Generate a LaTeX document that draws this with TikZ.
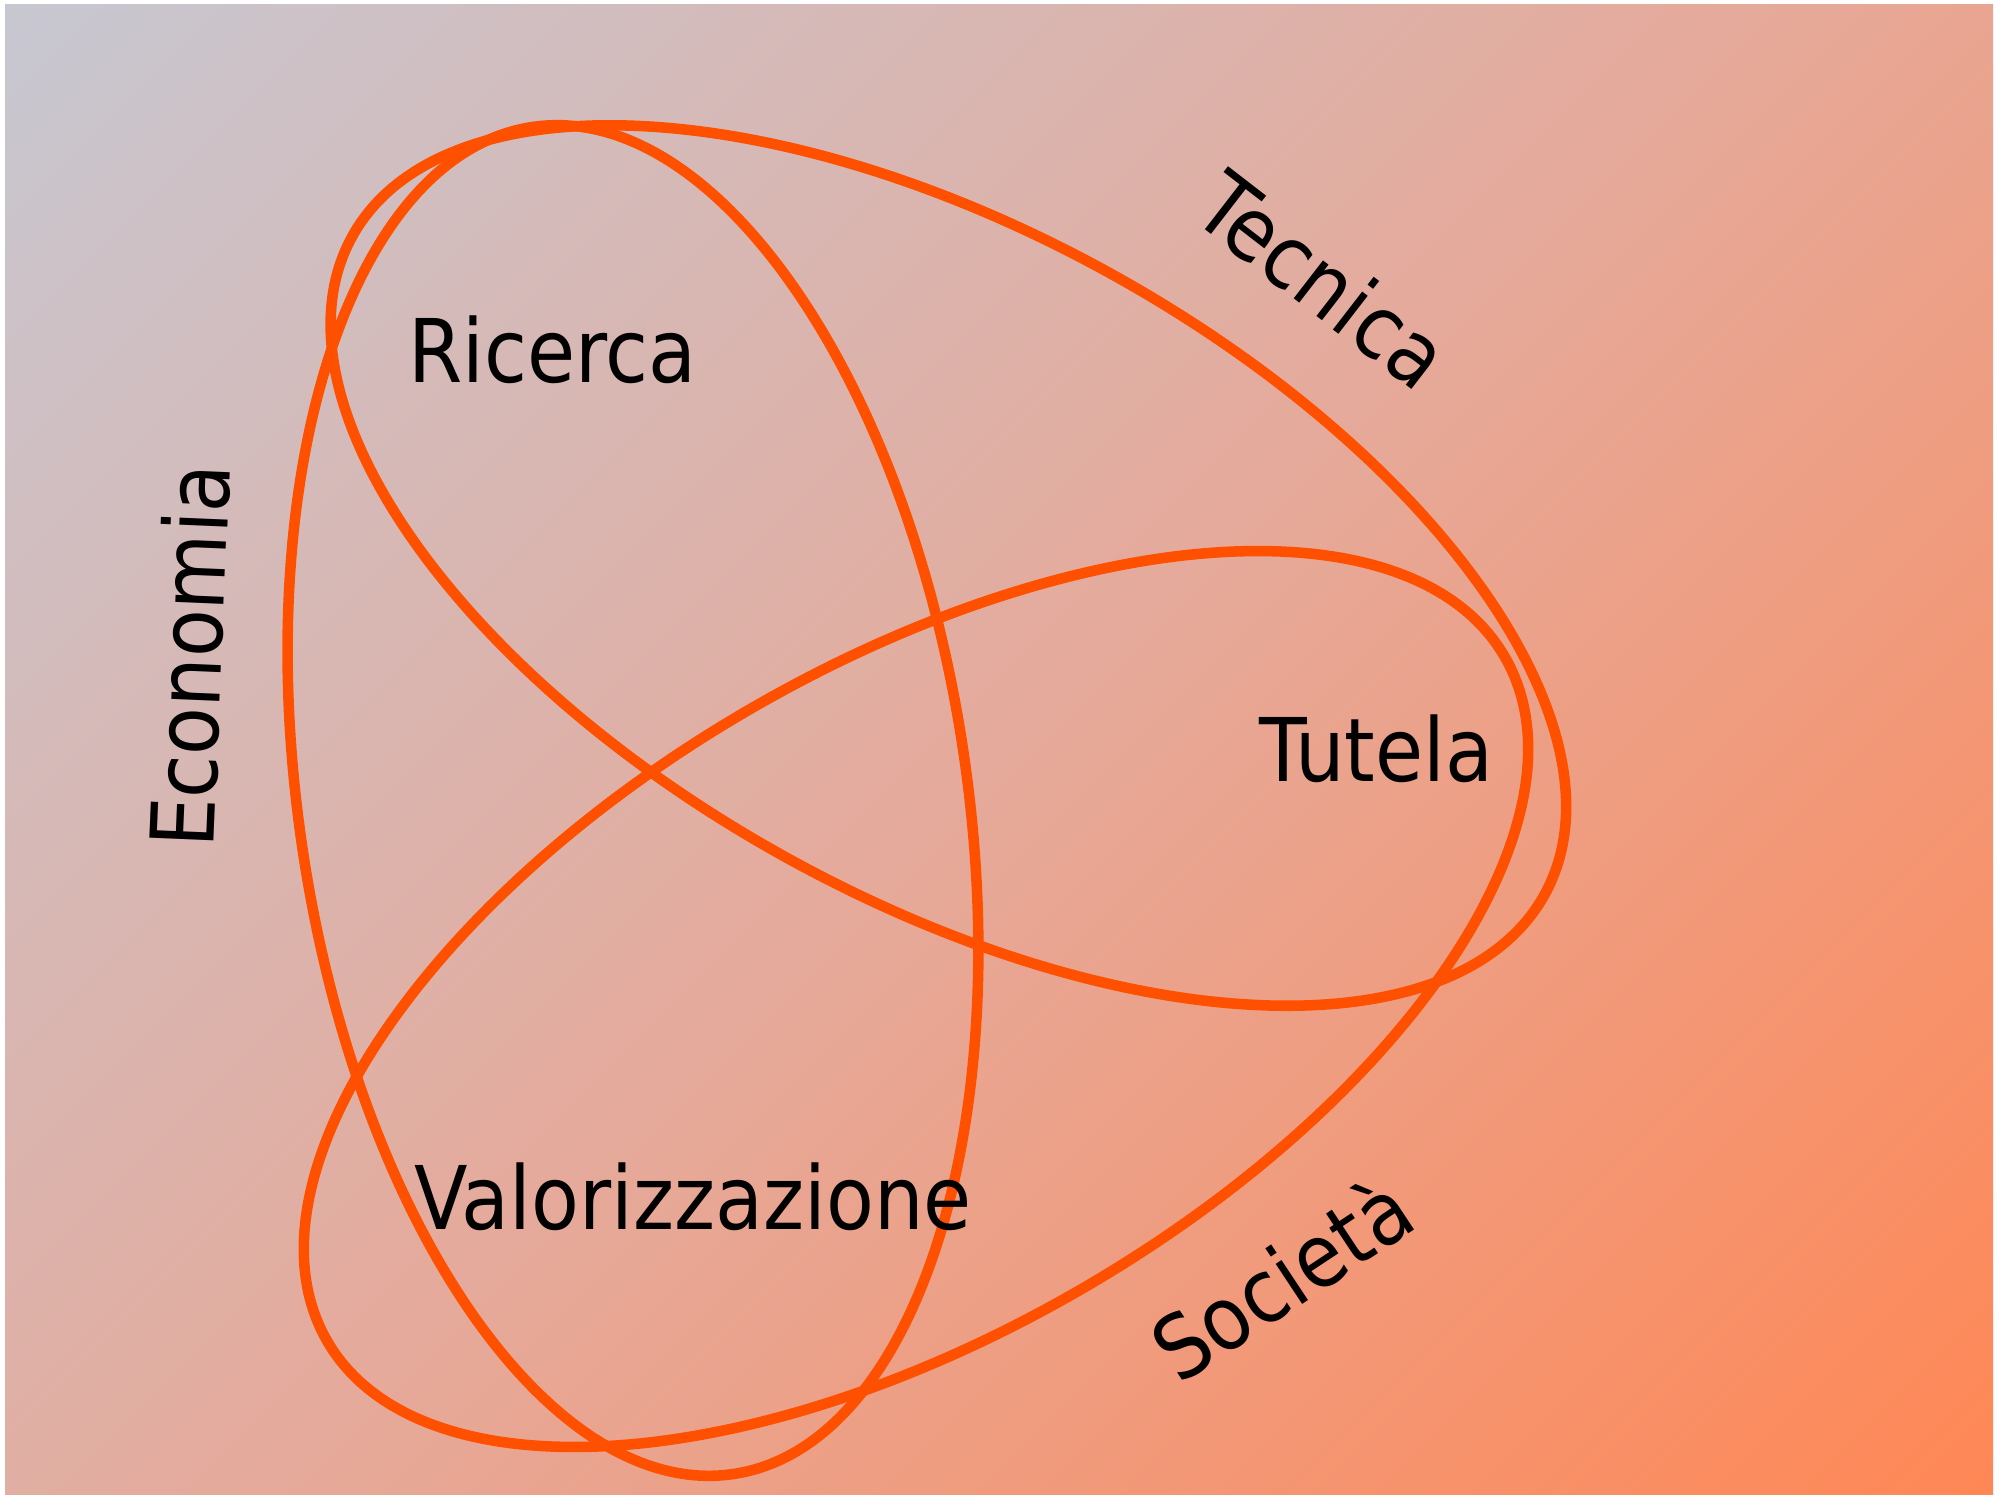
\documentclass[tikz,border=0pt]{standalone}
\usepackage{fontspec}
\newfontfamily\labelfont{DejaVu Sans}[FakeStretch=0.89]
\definecolor{ringorange}{RGB}{255,80,0}
\definecolor{bgtl}{RGB}{199,199,209}
\definecolor{bgmid}{RGB}{229,170,155}
\definecolor{bgbr}{RGB}{255,135,85}
\pgfdeclarehorizontalshading{bgfade}{100bp}{color(0bp)=(bgtl); color(14.6bp)=(bgtl); color(50bp)=(bgmid); color(85.4bp)=(bgbr); color(100bp)=(bgbr)}

\begin{document}
\begin{tikzpicture}[
    ring/.style={draw=ringorange, line width=3pt},
    lbl/.style={font={\labelfont\fontsize{25}{30}\selectfont}, inner sep=0pt, anchor=base}]
        \useasboundingbox (0,0) rectangle (19.99,14.98);
        \shade[shading=bgfade, shading angle=-45] (0.05,0.03) rectangle (19.93,14.93);

        \coordinate (economia) at (6.33,6.975);
        \coordinate (tecnica) at (9.485,9.325);
        \coordinate (societa) at (9.16,4.99);

        % the three rings
        \draw[ring, rotate around={8.5:(economia)}] (economia) ellipse [x radius=3.34cm, y radius=6.81cm];
        \draw[ring, rotate around={-28.9:(tecnica)}] (tecnica) ellipse [x radius=6.81cm, y radius=3.34cm];
        \draw[ring, rotate around={30.2:(societa)}] (societa) ellipse [x radius=6.81cm, y radius=3.34cm];

        \node[lbl] (ricerca) at (5.525,11.15) {Ricerca};
        \node[lbl] (tutela) at (13.76,7.16) {Tutela};
        \node[lbl] (valorizzazione) at (6.93,2.68) {Valorizzazione};

        \node[lbl, rotate=87.6] (economialbl) at (2.22,8.41) {Economia};
        \node[lbl, rotate=-37.7] (tecnicalbl) at (13.03,11.92) {Tecnica};
        \node[lbl, rotate=33.5] (societalbl) at (12.995,1.92) {Società};
    \end{tikzpicture}
\end{document}
